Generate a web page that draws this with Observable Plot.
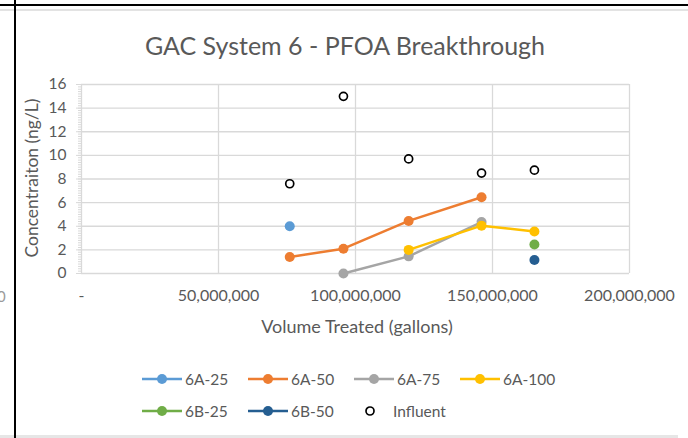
<!DOCTYPE html>
<html><head><meta charset="utf-8">
<script src="https://cdn.jsdelivr.net/npm/d3@7"></script>
<script src="https://cdn.jsdelivr.net/npm/@observablehq/plot@0.6"></script>
<style>
html,body{margin:0;padding:0;background:#fff;}
#wrap{position:relative;width:688px;height:438px;overflow:hidden;font-family:Lato,sans-serif;color:#595959;}
.abs{position:absolute;}
#title{position:absolute;left:0;width:690px;top:29px;text-align:center;font-size:25px;line-height:32px;white-space:nowrap;}
#chart{position:absolute;left:0;top:0;}
#xtitle{position:absolute;left:155px;width:404px;top:315px;text-align:center;font-size:18px;line-height:22px;}
#ytitle{position:absolute;left:32px;top:178px;transform:translate(-50%,-50%) rotate(-90deg);font-size:17.5px;line-height:20px;white-space:nowrap;}
.leg{position:absolute;display:flex;align-items:center;font-size:15.5px;line-height:18px;white-space:nowrap;}
.leg svg{margin-right:3px;}
</style></head><body>
<div id="wrap">
  <div id="chart"></div>
  <div id="title">GAC System 6 - PFOA Breakthrough</div>
  <div id="xtitle">Volume Treated (gallons)</div>
  <div id="ytitle">Concentraiton (ng/L)</div>
  <div id="legend"></div>
  <div class="abs" style="left:-3px;top:287px;font-size:15px;color:#9a9a9a;">0</div>
  <div class="abs" style="left:0;top:9px;width:688px;height:2px;background:#e3e3e3;"></div>
  <div class="abs" style="left:0;top:435px;width:678px;height:3px;background:#e6e6e6;"></div>
  <div class="abs" style="left:0;top:4px;width:688px;height:2px;background:#000;"></div>
  <div class="abs" style="left:14px;top:0;width:2px;height:438px;background:#000;"></div>
</div>
<script>
// Data
const volumes = [76.0e6, 95.6e6, 119.4e6, 146.0e6, 165.3e6];
const series = ["6A-25", "6A-50", "6A-75", "6A-100", "6B-25", "6B-50"];
const colors = ["#5B9BD5", "#ED7D31", "#A5A5A5", "#FFC000", "#70AD47", "#255E91"];
const v6A25  = [4.0, null, null, null, null];
const v6A50  = [1.4, 2.1, 4.45, 6.45, null];
const v6A75  = [null, 0.0, 1.45, 4.35, null];
const v6A100 = [null, null, 2.0, 4.05, 3.55];
const v6B25  = [null, null, null, null, 2.45];
const v6B50  = [null, null, null, null, 1.15];
const influent = [7.6, 15.0, 9.7, 8.5, 8.75];
const yTicks = [0, 2, 4, 6, 8, 10, 12, 14, 16];
const xTicks = [0, 50e6, 100e6, 150e6, 200e6];
const xTickLabels = ["-", "50,000,000", "100,000,000", "150,000,000", "200,000,000"];

const seriesValues = [v6A25, v6A50, v6A75, v6A100, v6B25, v6B50];
const rows = [];
seriesValues.forEach((vals, i) => vals.forEach((v, j) => {
  if (v != null) rows.push({series: series[i], x: volumes[j], y: v});
}));
const infRows = influent.map((v, j) => ({x: volumes[j], y: v}));
const minor = d3.range(0, 160.5, 2).map(d => d / 10);
const grid = "#d9d9d9";

const chart = Plot.plot({
  width: 688, height: 345,
  marginTop: 84, marginLeft: 81, marginRight: 59, marginBottom: 72,
  style: {fontFamily: "Lato, sans-serif", fontSize: "14px", color: "#595959", background: "transparent", overflow: "visible"},
  x: {domain: [0, 200e6]},
  y: {domain: [0, 16]},
  color: {domain: series, range: colors},
  marks: [
    Plot.gridX(xTicks, {stroke: grid, strokeOpacity: 1, strokeWidth: 1.3}),
    Plot.gridY(yTicks, {stroke: grid, strokeOpacity: 1, strokeWidth: 1.3}),
    Plot.axisY(minor, {tickSize: 3, tickFormat: () => "", stroke: grid, strokeOpacity: 1, label: null}),
    Plot.axisY(yTicks, {tickSize: 5, tickPadding: 10, stroke: grid, strokeOpacity: 1, label: null, fontSize: 15.5}),
    Plot.axisX(xTicks, {tickSize: 0, tickPadding: 16, tickFormat: (d) => xTickLabels[xTicks.indexOf(d)], label: null, fontSize: 16}),
    Plot.line(rows, {x: "x", y: "y", z: "series", stroke: "series", strokeWidth: 2.5}),
    Plot.dot(rows, {x: "x", y: "y", fill: "series", r: 5}),
    Plot.dot(infRows, {x: "x", y: "y", r: 4, stroke: "#000", strokeWidth: 1.7, fill: "none"})
  ]
});
document.getElementById("chart").append(chart);

// Legend
const legend = document.getElementById("legend");
const legItems = series.map((s, i) => ({label: s, color: colors[i], type: "line"}))
  .concat([{label: "Influent", color: "#000", type: "circle"}]);
legItems.forEach((it, i) => {
  const row = i < 4 ? 0 : 1;
  const col = i < 4 ? i : i - 4;
  const div = document.createElement("div");
  div.className = "leg";
  div.style.left = (142 + col * 106) + "px";
  div.style.top = (row === 0 ? 370 : 402) + "px";
  const w = it.type === "line" ? 40 : 36;
  const sw = d3.create("svg").attr("width", w).attr("height", 14);
  if (it.type === "line") {
    sw.append("line").attr("x1", 0).attr("x2", 40).attr("y1", 7).attr("y2", 7).attr("stroke", it.color).attr("stroke-width", 2.5);
    sw.append("circle").attr("cx", 20).attr("cy", 7).attr("r", 5).attr("fill", it.color);
  } else {
    sw.append("circle").attr("cx", 16).attr("cy", 7).attr("r", 4).attr("fill", "none").attr("stroke", it.color).attr("stroke-width", 1.7);
  }
  div.append(sw.node());
  const t = document.createElement("span");
  t.textContent = it.label;
  div.append(t);
  legend.append(div);
});
</script>
</body></html>
